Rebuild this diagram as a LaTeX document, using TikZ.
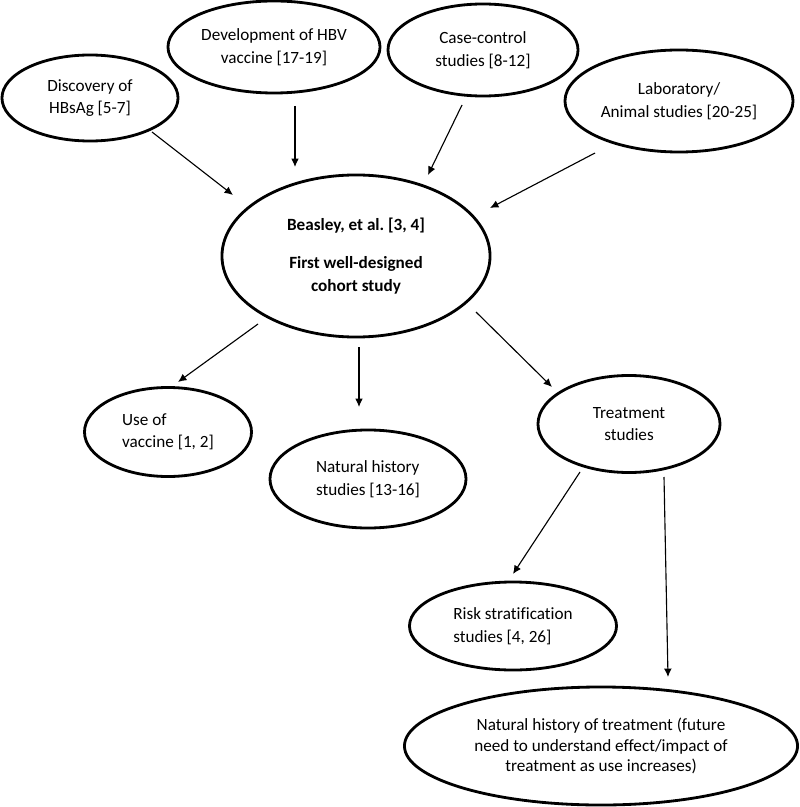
\documentclass[tikz,border=0pt]{standalone}
\usepackage{fontspec}
\setmainfont{Carlito}[Ligatures=NoCommon]
\usepackage{tikz}
\usetikzlibrary{shapes.geometric,arrows.meta,calc}
\frenchspacing

\begin{document}
\begin{tikzpicture}[
    x=0.025cm, y=-0.025cm,
    study/.style={ellipse, draw=black, line width=2pt, inner sep=0pt, align=center, font=\fontsize{12.2}{16}\selectfont},
    arrow/.style={draw, line width=0.8pt, -{Latex[length=6pt,width=5.5pt]}, color=black}
]
    \useasboundingbox (0,0) rectangle (800,807);

    % Nodes (top row)
    \node[study, minimum width=4.4cm, minimum height=2.15cm] (disc) at (90,98) {Discovery of\\HBsAg [5-7]};
    \node[study, minimum width=5.3cm, minimum height=2.3cm] (hbv) at (274,47) {Development of HBV\\vaccine [17-19]};
    \node[study, minimum width=4.75cm, minimum height=2.3cm] (casectl) at (483,50) {Case-control\\studies [8-12]};
    \node[study, minimum width=5.7cm, minimum height=2.55cm] (lab) at (679,101) {Laboratory/\\Animal studies [20-25]};

    % Centre
    \node[study, minimum width=6.7cm, minimum height=4.05cm, font=\bfseries\fontsize{12.2}{16}\selectfont] (beasley) at (356,256) {Beasley, et al. [3, 4]\\[11pt]First well-designed\\cohort study};

    % Nodes (lower part)
    \node[study, align=left, minimum width=4.175cm, minimum height=2.225cm] (usevac) at (168,432) {Use of\\vaccine [1, 2]};
    \node[study, align=left, minimum width=4.9cm, minimum height=2.45cm] (nathist) at (368,479) {Natural history\\studies [13-16]};
    \node[study, minimum width=4.55cm, minimum height=2.425cm] (treat) at (629,424) {Treatment\\studies};
    \node[study, align=left, minimum width=5.175cm, minimum height=2.2cm] (risk) at (513,626) {Risk stratification\\studies [4, 26]};
    \node[study, minimum width=9.825cm, minimum height=2.95cm, font=\fontsize{12.2}{14.5}\selectfont] (nattreat) at (601,746) {Natural history of treatment (future\\need to understand effect/impact of\\treatment as use increases)};

    % Arrows
    \path [arrow] ($(disc)+(62,34)$) -- ($(beasley)+(-123,-61)$);
    \path [arrow] ($(hbv)+(21,59)$) -- ($(beasley)+(-61,-89)$);
    \path [arrow] ($(casectl)+(-21,55)$) -- ($(beasley)+(72,-81)$);
    \path [arrow] ($(lab)+(-84,52)$) -- ($(beasley)+(134,-48)$);
    \path [arrow] ($(beasley)+(-98,68)$) -- ($(usevac)+(10,-50)$);
    \path [arrow] ($(beasley)+(3,91)$) -- ($(nathist)+(-9,-72)$);
    \path [arrow] ($(beasley)+(120,56)$) -- ($(treat)+(-77,-37)$);
    \path [arrow] ($(treat)+(-49,48)$) -- ($(risk)+(0,-52)$);
    \path [arrow] ($(treat)+(35,53)$) -- ($(nattreat)+(67,-69)$);
\end{tikzpicture}
\end{document}
